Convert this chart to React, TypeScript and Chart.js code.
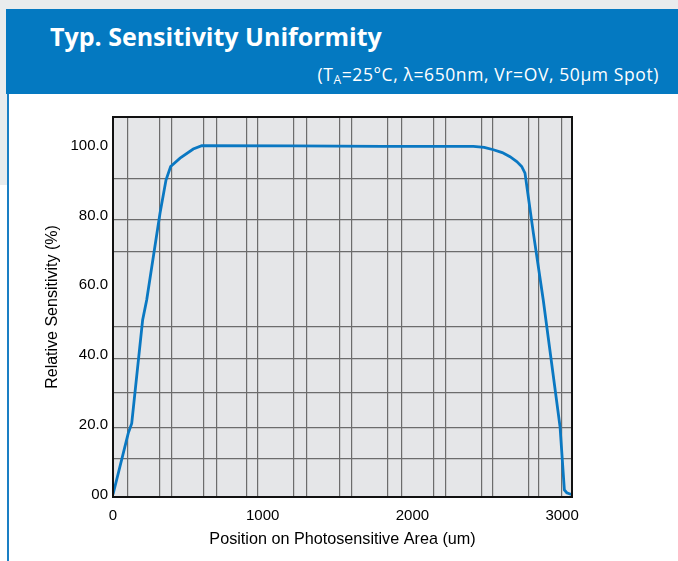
import React, { useEffect, useRef } from "react";
import { Chart, registerables } from "chart.js";

Chart.register(...registerables);

// ---- data ----
const positionUm = [0, 102, 125, 198, 225, 314, 354, 385, 448, 536, 593, 1200, 1800, 2407, 2480, 2541, 2600, 2652, 2697, 2730, 2752, 2808, 2874, 2986, 3015, 3031, 3062];
const relSensitivity = [0, 17.6, 20.4, 50.1, 55.8, 80.7, 90.2, 94.1, 96.5, 99.1, 100.1, 100, 99.9, 99.9, 99.6, 98.9, 98.1, 96.9, 95.5, 94.1, 92.2, 75, 55.8, 19.5, 1.3, 0.5, 0];

const xTickValues = [0, 1000, 2000, 3000];
const yTickValues = [0, 20, 40, 60, 80, 100];
const yTickLabels = ["00", "20.0", "40.0", "60.0", "80.0", "100.0"];

const xGridValues = [100, 314, 394, 608, 695, 895, 969, 1209, 1296, 1516, 1597, 1837, 1931, 2144, 2224, 2465, 2538, 2779, 2846, 2999];
const yGridValues = [10.2, 19.1, 29.1, 38.9, 48.1, 69.6, 78.8, 90.5];

const X_MIN = 0;
const X_MAX = 3066;
const Y_MIN = -0.72;
const Y_MAX = 108.3;

const TITLE = "Typ. Sensitivity Uniformity";
const X_TITLE = "Position on Photosensitive Area (um)";
const Y_TITLE = "Relative Sensitivity (%)";

const FONT = "'Liberation Sans', Arial, Helvetica, sans-serif";

const plotFrame = {
  id: "plotFrame",
  beforeDraw(chart: any) {
    const { ctx, chartArea: a } = chart;
    ctx.save();
    ctx.fillStyle = "#e5e6e8";
    ctx.fillRect(a.left, a.top, a.right - a.left, a.bottom - a.top);
    ctx.restore();
  },
  afterDraw(chart: any) {
    const { ctx, chartArea: a } = chart;
    ctx.save();
    ctx.strokeStyle = "#111";
    ctx.lineWidth = 2;
    ctx.strokeRect(a.left, a.top, a.right - a.left, a.bottom - a.top);
    ctx.restore();
  },
};

function SensitivityChart() {
  const ref = useRef<HTMLCanvasElement | null>(null);
  useEffect(() => {
    if (!ref.current) return;
    const chart = new Chart(ref.current, {
      type: "line",
      data: {
        datasets: [
          {
            data: positionUm.map((x, i) => ({ x, y: relSensitivity[i] })),
            borderColor: "#0a78c2",
            borderWidth: 2.8,
            pointRadius: 0,
            tension: 0,
            fill: false,
          },
        ],
      },
      options: {
        responsive: false,
        animation: false,
        devicePixelRatio: 1,
        layout: { padding: { left: 40, right: 106, top: 23, bottom: 0 } },
        plugins: { legend: { display: false }, tooltip: { enabled: false } },
        scales: {
          x: {
            type: "linear",
            axis: "x",
            position: "bottom",
            min: X_MIN,
            max: X_MAX,
            afterBuildTicks: (s: any) => {
              s.ticks = xTickValues.map((v) => ({ value: v }));
            },
            afterFit: (s: any) => {
              s.height = 64;
            },
            grid: { display: false, drawTicks: false },
            border: { display: false },
            ticks: {
              color: "#000",
              font: { family: FONT, size: 15 },
              padding: 10,
              maxRotation: 0,
              autoSkip: false,
              callback: (v: any) => String(v),
            },
            title: {
              display: true,
              text: X_TITLE,
              color: "#000",
              font: { family: FONT, size: 16.2 },
              padding: { top: 0, bottom: 12 },
            },
          },
          y: {
            type: "linear",
            axis: "y",
            position: "left",
            min: Y_MIN,
            max: Y_MAX,
            afterBuildTicks: (s: any) => {
              s.ticks = yTickValues.map((v) => ({ value: v }));
            },
            afterFit: (s: any) => {
              s.width = 73;
            },
            grid: { display: false, drawTicks: false },
            border: { display: false },
            ticks: {
              color: "#000",
              font: { family: FONT, size: 15 },
              padding: 5,
              autoSkip: false,
              callback: (v: any) => {
                const i = yTickValues.indexOf(v);
                return i >= 0 ? yTickLabels[i] : "";
              },
            },
            title: {
              display: true,
              text: Y_TITLE,
              color: "#000",
              font: { family: FONT, size: 16 },
              padding: { top: 3, bottom: 0 },
            },
          },
          x2: {
            type: "linear",
            axis: "x",
            position: "top",
            min: X_MIN,
            max: X_MAX,
            z: -1,
            afterBuildTicks: (s: any) => {
              s.ticks = xGridValues.map((v) => ({ value: v }));
            },
            afterFit: (s: any) => {
              s.height = 0;
            },
            ticks: { display: false },
            border: { display: false },
            grid: { color: "#6c6c6c", lineWidth: 1.2, drawTicks: false },
          },
          y2: {
            type: "linear",
            axis: "y",
            position: "right",
            min: Y_MIN,
            max: Y_MAX,
            z: -1,
            afterBuildTicks: (s: any) => {
              s.ticks = yGridValues.map((v) => ({ value: v }));
            },
            afterFit: (s: any) => {
              s.width = 0;
            },
            ticks: { display: false },
            border: { display: false },
            grid: { color: "#6c6c6c", lineWidth: 1.2, drawTicks: false },
          },
        },
      },
      plugins: [plotFrame],
    } as any);
    return () => chart.destroy();
  }, []);
  return (
    <canvas
      ref={ref}
      width={678}
      height={467}
      style={{ position: "absolute", left: 0, top: 94, width: 678, height: 467 }}
    />
  );
}

export default function App() {
  return (
    <div
      style={{
        position: "absolute",
        left: 0,
        top: 0,
        width: 678,
        height: 561,
        background: "#ffffff",
        overflow: "hidden",
      }}
    >
      <div style={{ position: "absolute", left: 0, top: 0, width: 678, height: 9, background: "#e9eced" }} />
      <div style={{ position: "absolute", left: 0, top: 0, width: 7, height: 185, background: "#e9eced" }} />
      <div style={{ position: "absolute", left: 7, top: 94, width: 2, height: 467, background: "#1a7fc4" }} />
      <div
        style={{
          position: "absolute",
          left: 6,
          top: 9,
          width: 672,
          height: 85,
          background: "#0479c1",
        }}
      />
      <div
        style={{
          position: "absolute",
          left: 50,
          top: 24,
          color: "#fff",
          fontFamily: "'Open Sans', sans-serif",
          fontWeight: 700,
          fontSize: 25,
          lineHeight: 1,
          whiteSpace: "nowrap",
          letterSpacing: 0,
        }}
      >
        {TITLE}
      </div>
      <div
        style={{
          position: "absolute",
          right: 19,
          top: 66,
          color: "#fff",
          fontFamily: "'Open Sans', sans-serif",
          fontWeight: 400,
          fontSize: 17.5,
          lineHeight: 1,
          whiteSpace: "nowrap",
          letterSpacing: 0.6,
        }}
      >
        (T<sub style={{ fontSize: 12, verticalAlign: -3 }}>A</sub>=25°C, λ=650nm, Vr=OV, 50µm Spot)
      </div>
      <SensitivityChart />
    </div>
  );
}
